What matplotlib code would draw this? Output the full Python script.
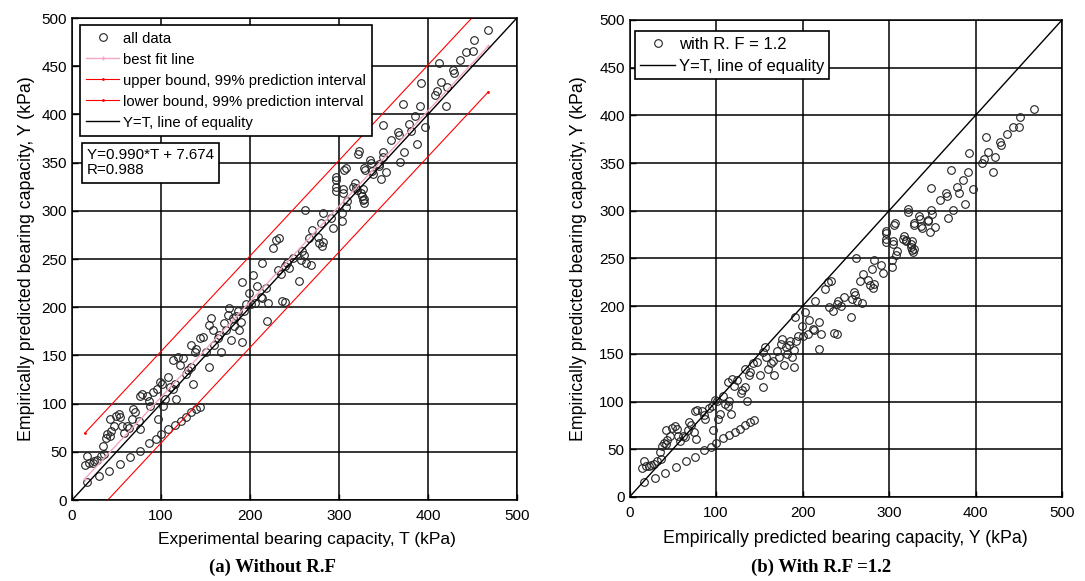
import numpy as np
import matplotlib.pyplot as plt

plt.rcParams['font.family'] = ['Liberation Sans', 'DejaVu Sans']

# experimental capacity T and predicted capacity Y (kPa)
T = [16.7, 14.4, 19.3, 23, 24.8, 28.5, 32, 36, 35, 37.8, 39.6, 42.6, 43.3, 42.6, 47, 49, 52.6, 54.4,
     56.3, 58, 62, 63.7, 67.4, 69, 71, 74.8, 76.7, 78.5, 76, 84, 86, 87.8, 91.5, 95, 97, 99, 100.7,
     102.6, 104.4, 108, 110, 113.7, 115.5, 117.4, 113.7, 119, 121, 124.8, 128.5, 130.4, 134, 136, 134,
     137.8, 139.6, 143.3, 147, 150.7, 154.4, 154.4, 156.3, 158, 160, 163.7, 165.5, 167.4, 171, 173,
     174.8, 176.7, 178.5, 180.4, 182, 184, 186, 188, 189.6, 190.7, 193, 195, 200.7, 206, 213.7, 219,
     236,
     321.5, 335.5, 345, 306, 329, 338.5, 297, 297, 304.5, 316, 320, 325, 326.8, 328, 308, 303.8, 303.8,
     262, 282.6, 291, 293, 280, 269.8, 266.8, 276, 278, 281, 282.6, 232.8, 229.8, 226.4, 259, 261, 248,
     241.5, 257, 263, 268.7, 214, 231, 234.7, 239.6, 244, 255.5, 203.4, 191.3, 199, 208, 218.5, 212,
     220.8, 239.6,
     468, 452, 450.7, 443, 436, 412.7, 428, 429.5, 422, 414.6, 410, 408, 420, 392, 372, 391, 385.8,
     379, 397, 349, 366, 367, 381, 358.6, 387.3, 373.5, 368.7, 322.4, 335, 349, 350, 344.8, 328.7, 337,
     353, 347, 307.5, 297, 297, 305, 317.5, 319.4, 327, 326, 328.7, 309,
     16.7, 30, 41.5, 53.7, 65, 76, 86, 94, 100, 108, 115.5, 122, 128, 134, 139, 144]
Y = [45.5, 36, 38.5, 38.5, 40.2, 42, 45.5, 48, 56, 64.7, 68, 66.4, 71.7, 84, 77, 87.4, 89, 85.7,
     77, 70, 77, 75, 84, 94.4, 91, 82, 73.4, 110, 108, 108, 103, 98, 112, 115, 84, 122, 120.6,
     98, 105, 127.6, 117, 115, 120.6, 105, 145, 148.6, 140, 147, 131, 134.6, 138, 120.6, 161,
     154, 157, 168, 169.6, 154, 138, 182, 189, 176.6, 160.8, 168, 171, 154, 183.6, 176.6,
     192, 199, 166, 189, 180, 190.6, 196, 176.6, 185, 164, 196, 203, 203, 204.5, 210, 186,
     206,
     359, 350, 349, 342, 342, 338, 332, 321, 318, 325, 322, 318, 311, 308, 304, 298, 289,
     301, 297.6, 292.4, 282, 287, 280, 271.7, 272.8, 266.6, 263, 268, 271.7, 270, 261, 258, 254.5, 251,
     246, 249, 246, 244, 246, 239, 234, 242.5, 240.7, 227, 233, 226, 215, 222, 220, 211,
     204.5, 205,
     488, 477.7, 466, 465, 456, 453, 446, 442.6, 428, 434, 424.7, 420, 408.8, 433, 411, 408.8, 398.6,
     390, 387, 388.5, 382, 379, 382.4, 373, 369, 361.5, 351, 362, 353, 360.5, 355.4, 347, 344.6, 341,
     340, 333.4, 344.6, 335, 325, 322.3, 328.4, 323.3, 322.3, 315, 312, 310,
     19, 24.5, 29.7, 37.8, 44.8, 50.7, 58.7, 63, 68, 74, 77.6, 82, 85.7, 91, 94, 97]

slope = 0.990
intercept = 7.674
r_value = 0.988
half_width = 47.5   # 99% prediction interval half width
rf = 1.2            # reduction factor for panel (b)

T = np.array(T)
Y = np.array(Y)
Y_rf = Y / rf

fig = plt.figure(figsize=(10.85, 5.81), dpi=100)
ax1 = fig.add_axes([0.0664, 0.1394, 0.410, 0.8296])
ax2 = fig.add_axes([0.5802, 0.1446, 0.3986, 0.821])

mk = dict(ls='none', marker='o', mfc='none', mec='#222222', ms=5.5, mew=0.8)
lab_fs = 12.8

# panel (a)
tt = np.linspace(T.min(), T.max(), 60)
fit = slope * tt + intercept
ax1.plot(T, Y, label='all data', **mk)
ax1.plot(tt, fit, color='#f4a6c8', lw=1, marker='+', ms=3, markevery=[0, -1], label='best fit line')
ax1.plot(tt, fit + half_width, color='red', lw=0.8, marker='.', ms=2, markevery=[0, -1],
         label='upper bound, 99% prediction interval')
ax1.plot(tt, fit - half_width, color='red', lw=0.8, marker='.', ms=2, markevery=[0, -1],
         label='lower bound, 99% prediction interval')
ax1.plot([0, 500], [0, 500], color='black', lw=1, label='Y=T, line of equality')
leg1 = ax1.legend(loc='upper left', bbox_to_anchor=(0.018, 0.985), fontsize=10.75, fancybox=False,
                  framealpha=1, edgecolor='black', borderpad=0.42, labelspacing=0.47,
                  handlelength=2.2, handletextpad=0.25, borderaxespad=0)
leg1.get_frame().set_linewidth(1.2)
ax1.text(0.0337, 0.73, 'Y=0.990*T + 7.674\nR=0.988', transform=ax1.transAxes, fontsize=10.9,
         va='top', ha='left', linespacing=1.1,
         bbox=dict(boxstyle='square,pad=0.35', fc='white', ec='black', lw=1.2))
ax1.set_xlabel('Experimental bearing capacity, T (kPa)', fontsize=12.5, labelpad=7)
ax1.xaxis.set_label_coords(0.527, -0.066)
ax1.set_ylabel('Empirically predicted bearing capacity, Y (kPa)', fontsize=lab_fs, labelpad=4.5)

# panel (b)
ax2.plot(T, Y_rf, label='with R. F = 1.2', **mk)
ax2.plot([0, 500], [0, 500], color='black', lw=1, label='Y=T, line of equality')
leg2 = ax2.legend(loc='upper left', bbox_to_anchor=(0.012, 0.976), fontsize=12, fancybox=False,
                  framealpha=1, edgecolor='black', borderpad=0.33, labelspacing=0.42,
                  handlelength=2.1, handletextpad=0.2, borderaxespad=0)
leg2.get_frame().set_linewidth(1.2)
ax2.set_xlabel('Empirically predicted bearing capacity, Y (kPa)', fontsize=lab_fs, labelpad=7)
ax2.set_ylabel('Empirically predicted bearing capacity, Y (kPa)', fontsize=lab_fs, labelpad=9)

for ax in (ax1, ax2):
    ax.set_xlim(0, 500)
    ax.set_ylim(0, 500)
    ax.set_xticks(np.arange(0, 501, 100))
    ax.set_yticks(np.arange(0, 501, 50))
    ax.grid(True, color='black', lw=1.1)
    ax.set_axisbelow(True)
    ax.tick_params(direction='in', length=4, labelsize=11, width=1)
    ax.tick_params(axis='x', pad=6.5)
    for s in ax.spines.values():
        s.set_linewidth(1.1)

fig.text(0.2512, 0.0155, '(a) Without R.F', ha='center', va='baseline', fontsize=13.5,
         fontweight='bold', family='Liberation Serif')
fig.text(0.757, 0.0155, '(b) With R.F =1.2', ha='center', va='baseline', fontsize=13.5,
         fontweight='bold', family='Liberation Serif')

fig.savefig('out.png', dpi=100)
